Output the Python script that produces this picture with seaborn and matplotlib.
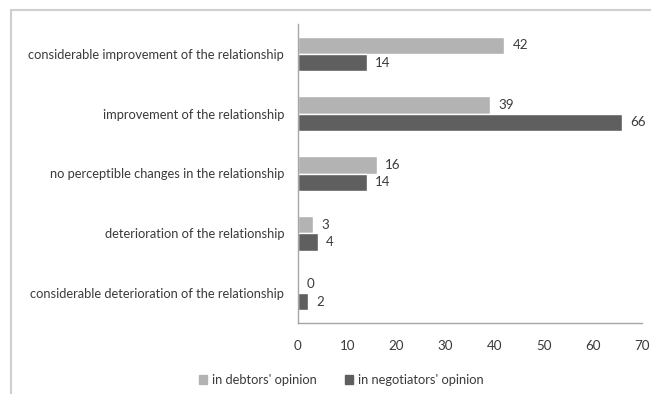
import matplotlib
matplotlib.use("Agg")
import matplotlib.pyplot as plt
from matplotlib.lines import Line2D
from matplotlib.patches import Patch
import seaborn as sns
import pandas as pd

categories = [
    "considerable improvement of the relationship",
    "improvement of the relationship",
    "no perceptible changes in the relationship",
    "deterioration of the relationship",
    "considerable deterioration of the relationship",
]
series_names = ["in debtors' opinion", "in negotiators' opinion"]
debtors = [42, 39, 16, 3, 0]
negotiators = [14, 66, 14, 4, 2]
x_ticks = [0, 10, 20, 30, 40, 50, 60, 70]

df = pd.DataFrame({
    "category": categories * 2,
    "series": [series_names[0]] * len(categories) + [series_names[1]] * len(categories),
    "value": debtors + negotiators,
})

sns.set_theme(style="white")
plt.rcParams["font.family"] = ["Lato", "DejaVu Sans"]
TXT = "#3a3a3a"
AX = "#a6a6a6"
FS = 9.3

W, H = 651, 394
fig = plt.figure(figsize=(W / 100, H / 100), dpi=100)
ax = fig.add_axes([298 / W, 1 - 323 / H, (642 - 298) / W, (323 - 24) / H])

sns.barplot(data=df, y="category", x="value", hue="series", orient="h",
            order=categories, hue_order=series_names,
            palette=["#b3b3b3", "#5f5f5f"], width=0.58, saturation=1,
            ax=ax, legend=False)

for cont in ax.containers:
    ax.bar_label(cont, padding=6, fontsize=FS + 0.3, color=TXT)

ax.set_xlim(0, 70)
ax.set_ylim(4.5, -0.5)
ax.set_xticks(x_ticks)
ax.set_xticklabels([str(t) for t in x_ticks], fontsize=FS + 0.3, color=TXT)
ax.set_yticks(range(len(categories)))
ax.set_yticklabels(categories, fontsize=FS, color=TXT)
ax.set_yticks([i - 0.5 for i in range(len(categories) + 1)], minor=True)
ax.tick_params(axis="y", which="major", length=0, pad=10)
ax.tick_params(axis="y", which="minor", length=4, width=1, color=AX, direction="out")
ax.tick_params(axis="x", which="major", length=3, width=1, color=AX, direction="in", pad=12)
ax.set_xlabel("")
ax.set_ylabel("")
for s in ["top", "right"]:
    ax.spines[s].set_visible(False)
for s in ["left", "bottom"]:
    ax.spines[s].set_color(AX)
    ax.spines[s].set_linewidth(1)

# outer frame (left and top edges)
fig.add_artist(Line2D([11 / W, 11 / W], [0, 1 - 10 / H], color="#cfcfcf", lw=1.5,
                      transform=fig.transFigure))
fig.add_artist(Line2D([11 / W, 1], [1 - 10 / H, 1 - 10 / H], color="#cfcfcf", lw=1.5,
                      transform=fig.transFigure))

handles = [Patch(color="#b3b3b3"), Patch(color="#5f5f5f")]
leg = fig.legend(handles, series_names, loc="center", bbox_to_anchor=(341 / W, 1 - 380 / H),
                 ncol=2, frameon=False, fontsize=FS, handlelength=0.65, handleheight=0.65,
                 handletextpad=0.35, columnspacing=2.2)
for t in leg.get_texts():
    t.set_color(TXT)

fig.savefig("out.png", dpi=100)
